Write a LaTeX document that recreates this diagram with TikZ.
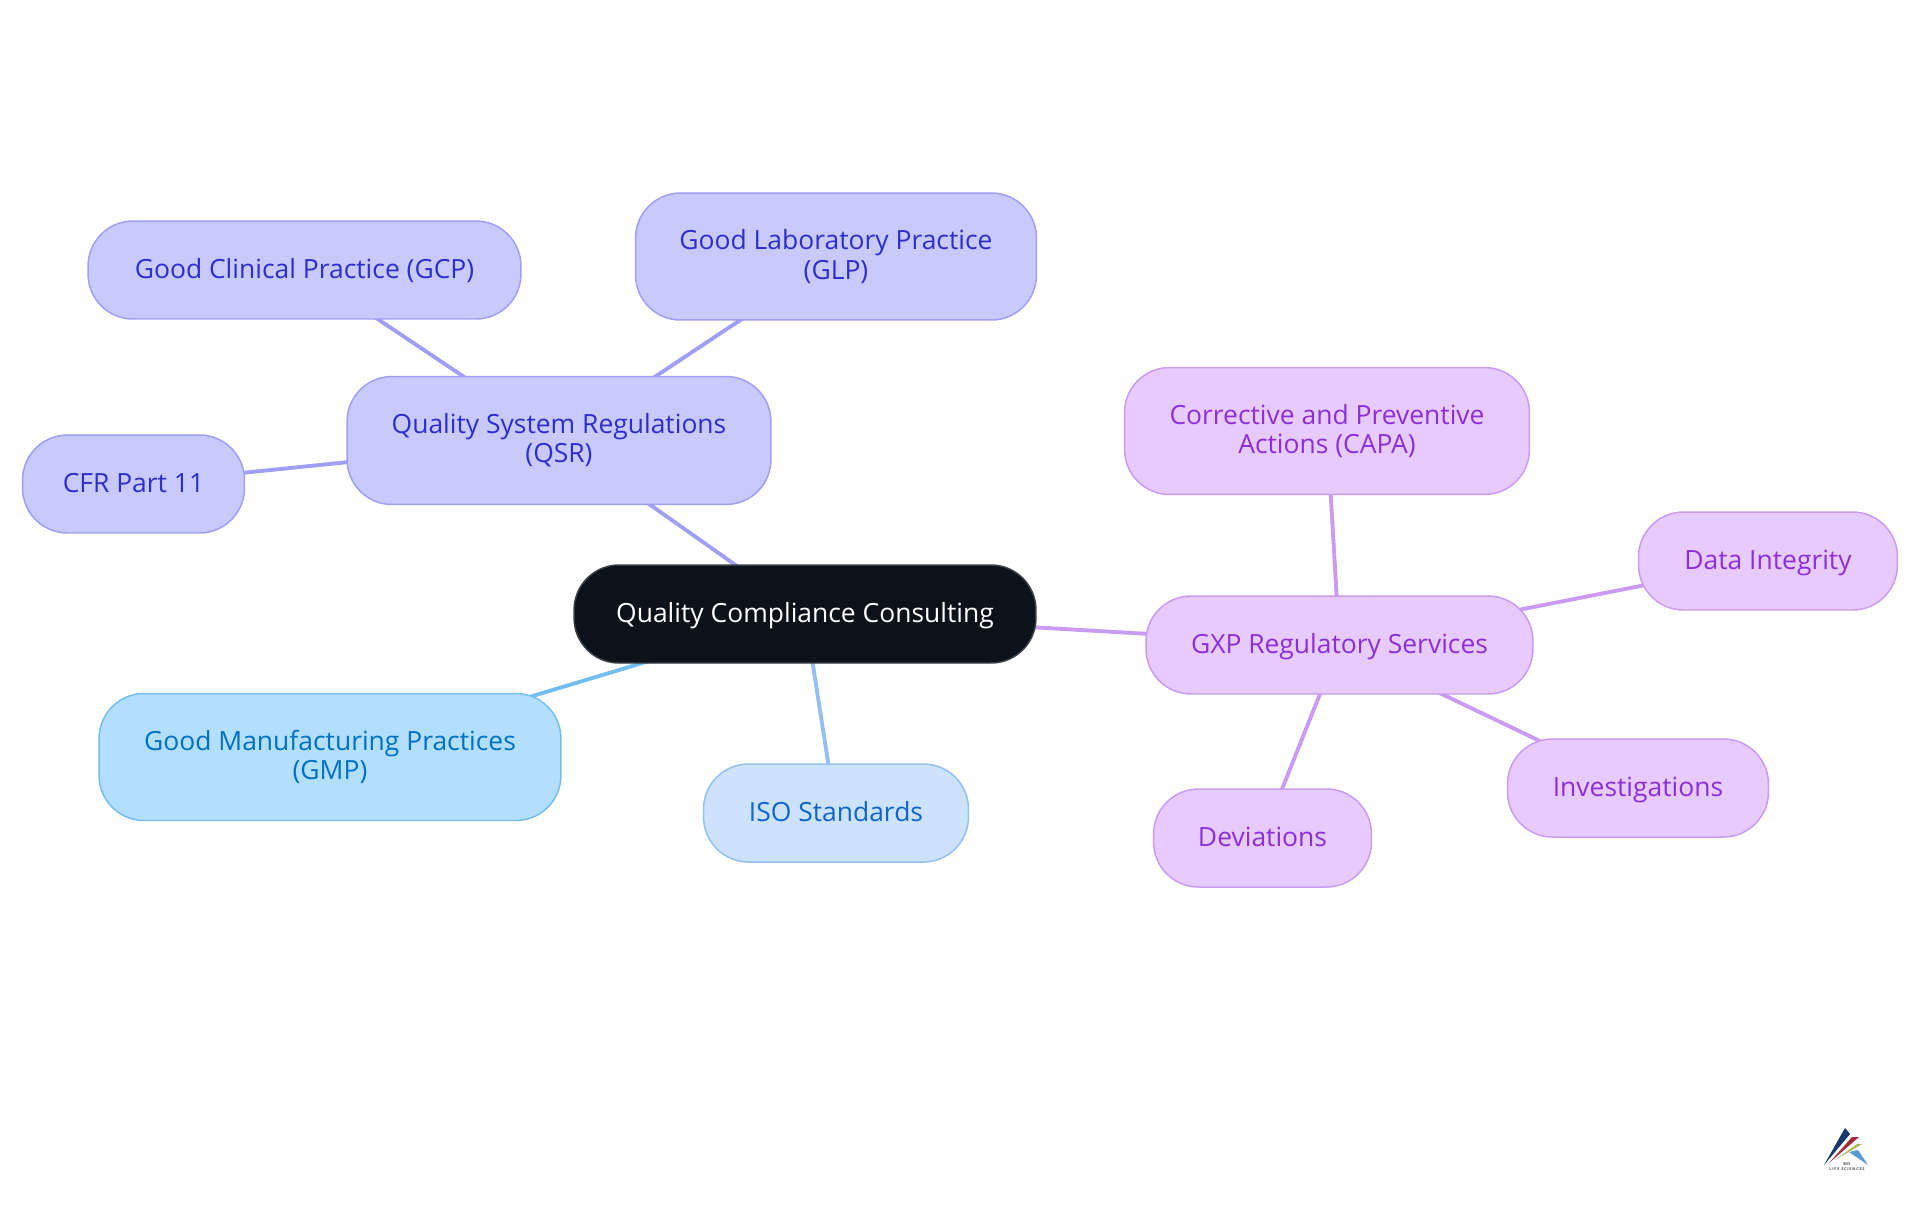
\documentclass[tikz,border=0pt]{standalone}
\usepackage{fontspec}
\setmainfont{Open Sans}
\usetikzlibrary{backgrounds}
\definecolor{rootfill}{HTML}{0C121A}
\definecolor{rootline}{HTML}{3A3F45}
\definecolor{qsrfill}{HTML}{C8C9FD}
\definecolor{qsrline}{HTML}{9F9FF5}
\definecolor{qsrtext}{HTML}{2E2ED0}
\definecolor{gxpfill}{HTML}{E7CBFE}
\definecolor{gxpline}{HTML}{C99BF2}
\definecolor{gxptext}{HTML}{8B2FDB}
\definecolor{gmpfill}{HTML}{B3DFFF}
\definecolor{gmpline}{HTML}{74BDF0}
\definecolor{gmptext}{HTML}{0070C7}
\definecolor{isofill}{HTML}{CCE2FD}
\definecolor{isoline}{HTML}{94C0F0}
\definecolor{isotext}{HTML}{0F65CF}
\definecolor{logoblue}{HTML}{15396B}
\definecolor{logored}{HTML}{A52A3A}
\definecolor{logogreen}{HTML}{A8B84F}
\definecolor{logosky}{HTML}{5B9BD8}
\tikzset{
  pill/.style={draw,rectangle,rounded corners=25.6pt,line width=0.85pt,inner sep=0pt,align=center,
    font=\fontsize{15.05}{16.7}\selectfont},
  oneline/.style={text height=10.2pt,text depth=0.4pt},
  rootnode/.style={pill,fill=rootfill,draw=rootline,text=white},
  qsrnode/.style={pill,fill=qsrfill,draw=qsrline,text=qsrtext},
  gxpnode/.style={pill,fill=gxpfill,draw=gxpline,text=gxptext},
  gmpnode/.style={pill,fill=gmpfill,draw=gmpline,text=gmptext},
  isonode/.style={pill,fill=isofill,draw=isoline,text=isotext},
  link/.style={line width=2.2pt}
}
\begin{document}
\begin{tikzpicture}[x=0.02cm,y=-0.02cm]
\useasboundingbox (0,0) rectangle (1920,1215);
\node [rootnode,oneline,minimum width=462*0.569pt,minimum height=98*0.569pt] (root) at (805,614) {Quality Compliance Consulting};
\node [qsrnode,minimum width=424*0.569pt,minimum height=128*0.569pt] (qsr) at (559,440.5) {Quality System Regulations\\(QSR)};
\node [qsrnode,oneline,minimum width=433*0.569pt,minimum height=98*0.569pt] (gcp) at (304.5,270) {Good Clinical Practice (GCP)};
\node [qsrnode,minimum width=401*0.569pt,minimum height=127*0.569pt] (glp) at (836,256.5) {Good Laboratory Practice\\(GLP)};
\node [qsrnode,oneline,minimum width=222*0.569pt,minimum height=98*0.569pt] (cfr) at (133.5,484) {CFR Part 11};
\node [gmpnode,minimum width=462*0.569pt,minimum height=127*0.569pt] (gmp) at (330,757) {Good Manufacturing Practices\\(GMP)};
\node [isonode,oneline,minimum width=265*0.569pt,minimum height=98*0.569pt] (iso) at (836,813) {ISO Standards};
\node [gxpnode,oneline,minimum width=387*0.569pt,minimum height=98*0.569pt] (gxp) at (1339.5,645) {GXP Regulatory Services};
\node [gxpnode,minimum width=405*0.569pt,minimum height=127*0.569pt] (capa) at (1327,431) {Corrective and Preventive\\Actions (CAPA)};
\node [gxpnode,oneline,minimum width=259*0.569pt,minimum height=98*0.569pt] (data) at (1768,561) {Data Integrity};
\node [gxpnode,oneline,minimum width=261*0.569pt,minimum height=98*0.569pt] (inv) at (1638,788) {Investigations};
\node [gxpnode,oneline,minimum width=218*0.569pt,minimum height=98*0.569pt] (dev) at (1262.5,838) {Deviations};
\begin{scope}[on background layer]
\draw [link,qsrline] (root.center) -- (qsr.center);
\draw [link,qsrline] (qsr.center) -- (gcp.center);
\draw [link,qsrline] (qsr.center) -- (glp.center);
\draw [link,qsrline] (qsr.center) -- (cfr.center);
\draw [link,gmpline] (root.center) -- (gmp.center);
\draw [link,isoline] (root.center) -- (iso.center);
\draw [link,gxpline] (root.center) -- (gxp.center);
\draw [link,gxpline] (gxp.center) -- (capa.center);
\draw [link,gxpline] (gxp.center) -- (data.center);
\draw [link,gxpline] (gxp.center) -- (inv.center);
\draw [link,gxpline] (gxp.center) -- (dev.center);
\end{scope}
\fill [logoblue] (1824,1165) -- (1845,1128) -- (1850,1134) -- cycle;
\fill [logored] (1829,1163) -- (1852,1137) -- (1859,1137) -- cycle;
\fill [logogreen] (1835,1160) -- (1857,1144) -- (1862,1144) -- cycle;
\fill [logosky] (1849,1152) -- (1858,1150) -- (1868,1165) -- cycle;
\node [inner sep=0pt,font=\fontsize{2.2}{2.5}\selectfont\bfseries,text=black!70] (bvs) at (1847,1164) {BVS};
\node [inner sep=0pt,font=\fontsize{2.2}{2.5}\selectfont\bfseries\addfontfeature{LetterSpace=20},text=black!70] (life) at (1847,1169) {LIFE SCIENCES};
\end{tikzpicture}
\end{document}
